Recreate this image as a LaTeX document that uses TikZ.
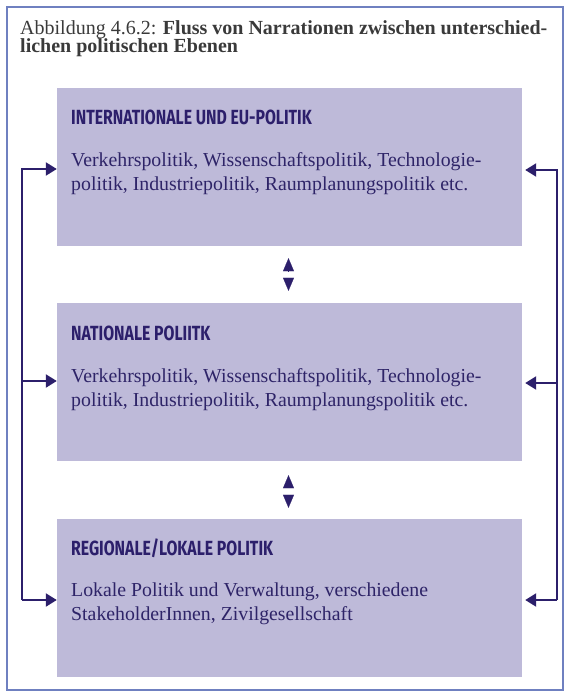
\documentclass[tikz,border=0pt]{standalone}
\usepackage{fontspec}
\setmainfont{Liberation Serif}
\newfontfamily\headfont[FakeStretch=0.77]{Fira Sans}
\usetikzlibrary{arrows.meta}
\definecolor{frame}{HTML}{6F80C0}
\definecolor{boxfill}{HTML}{BEBAD9}
\definecolor{ink}{HTML}{2C1F6B}
\definecolor{txt}{HTML}{2E2468}
\definecolor{titlegrey}{HTML}{3A3A3A}
\tikzset{
  levelbox/.style={fill=boxfill, draw=none, minimum width=465pt, minimum height=158pt, inner sep=0pt},
  headtxt/.style={anchor=base west, inner sep=0pt, text=ink, font=\headfont\bfseries\fontsize{20.5}{22}\selectfont},
  bodytxt/.style={anchor=base west, inner sep=0pt, text=txt, align=left, font=\fontsize{19.8}{23.5}\selectfont},
  arr/.style={draw=ink, line width=2.2pt, line join=miter, -{Triangle[length=11pt,width=13pt]}},
  tri/.style={draw=ink, line width=0.1pt, -{Triangle[length=13pt,width=11pt]}}
}
\begin{document}
\begin{tikzpicture}[x=1pt,y=-1pt]
\useasboundingbox (0,0) rectangle (565,695);
\draw[frame, line width=1.2pt] (7,7) rectangle (563,690);
\node[anchor=base west, inner sep=0pt, text=titlegrey, align=left, font=\fontsize{20}{18.5}\selectfont] (title) at (20,53)
  {Abbildung 4.6.2: \textbf{Fluss von Narrationen zwischen unterschied-}\\\textbf{lichen politischen Ebenen}};

\node[levelbox] (box1) at (289.5,167) {};
\node[levelbox] (box2) at (289.5,382) {};
\node[levelbox] (box3) at (289.5,598) {};

\node[headtxt] (h1) at (71,125) {INTERNATIONALE UND EU-POLITIK};
\node[bodytxt] (b1) at (71,190) {Verkehrspolitik, Wissenschaftspolitik, Technologie-\\politik, Industriepolitik, Raumplanungspolitik etc.};
\node[headtxt] (h2) at (71,340) {NATIONALE POLIITK};
\node[bodytxt] (b2) at (71,406) {Verkehrspolitik, Wissenschaftspolitik, Technologie-\\politik, Industriepolitik, Raumplanungspolitik etc.};
\node[headtxt] (h3) at (71,555) {REGIONALE/LOKALE POLITIK};
\node[bodytxt] (b3) at (71,620) {Lokale Politik und Verwaltung, verschiedene\\StakeholderInnen, Zivilgesellschaft};

% left connectors
\coordinate (lt) at (22,169);
\coordinate (lm) at (22,381);
\coordinate (lb) at (22,600);
\draw[arr] (lb) -- (lt) -- (box1.west |- lt);
\draw[arr] (lm) -- (box2.west |- lm);
\draw[arr] (lb) -- (box3.west |- lb);

% right connectors
\coordinate (rt) at (557,170);
\coordinate (rm) at (557,383);
\coordinate (rb) at (557,600);
\draw[arr, shorten >=3pt] (rb) -- (rt) -- (box1.east |- rt);
\draw[arr, shorten >=3pt] (rm) -- (box2.east |- rm);
\draw[arr, shorten >=3pt] (rb) -- (box3.east |- rb);

% middle double triangles
\coordinate (m1a) at (288.5,271);
\coordinate (m1b) at (288.5,280);
\coordinate (m2a) at (288.5,486);
\coordinate (m2b) at (288.5,495);
\draw[tri, shorten >=12pt] (m1a) -- (box1.south -| m1a);
\draw[tri, shorten >=12pt] (m1b) -- (box2.north -| m1b);
\draw[tri, shorten >=14pt] (m2a) -- (box2.south -| m2a);
\draw[tri, shorten >=11pt] (m2b) -- (box3.north -| m2b);
\end{tikzpicture}
\end{document}
